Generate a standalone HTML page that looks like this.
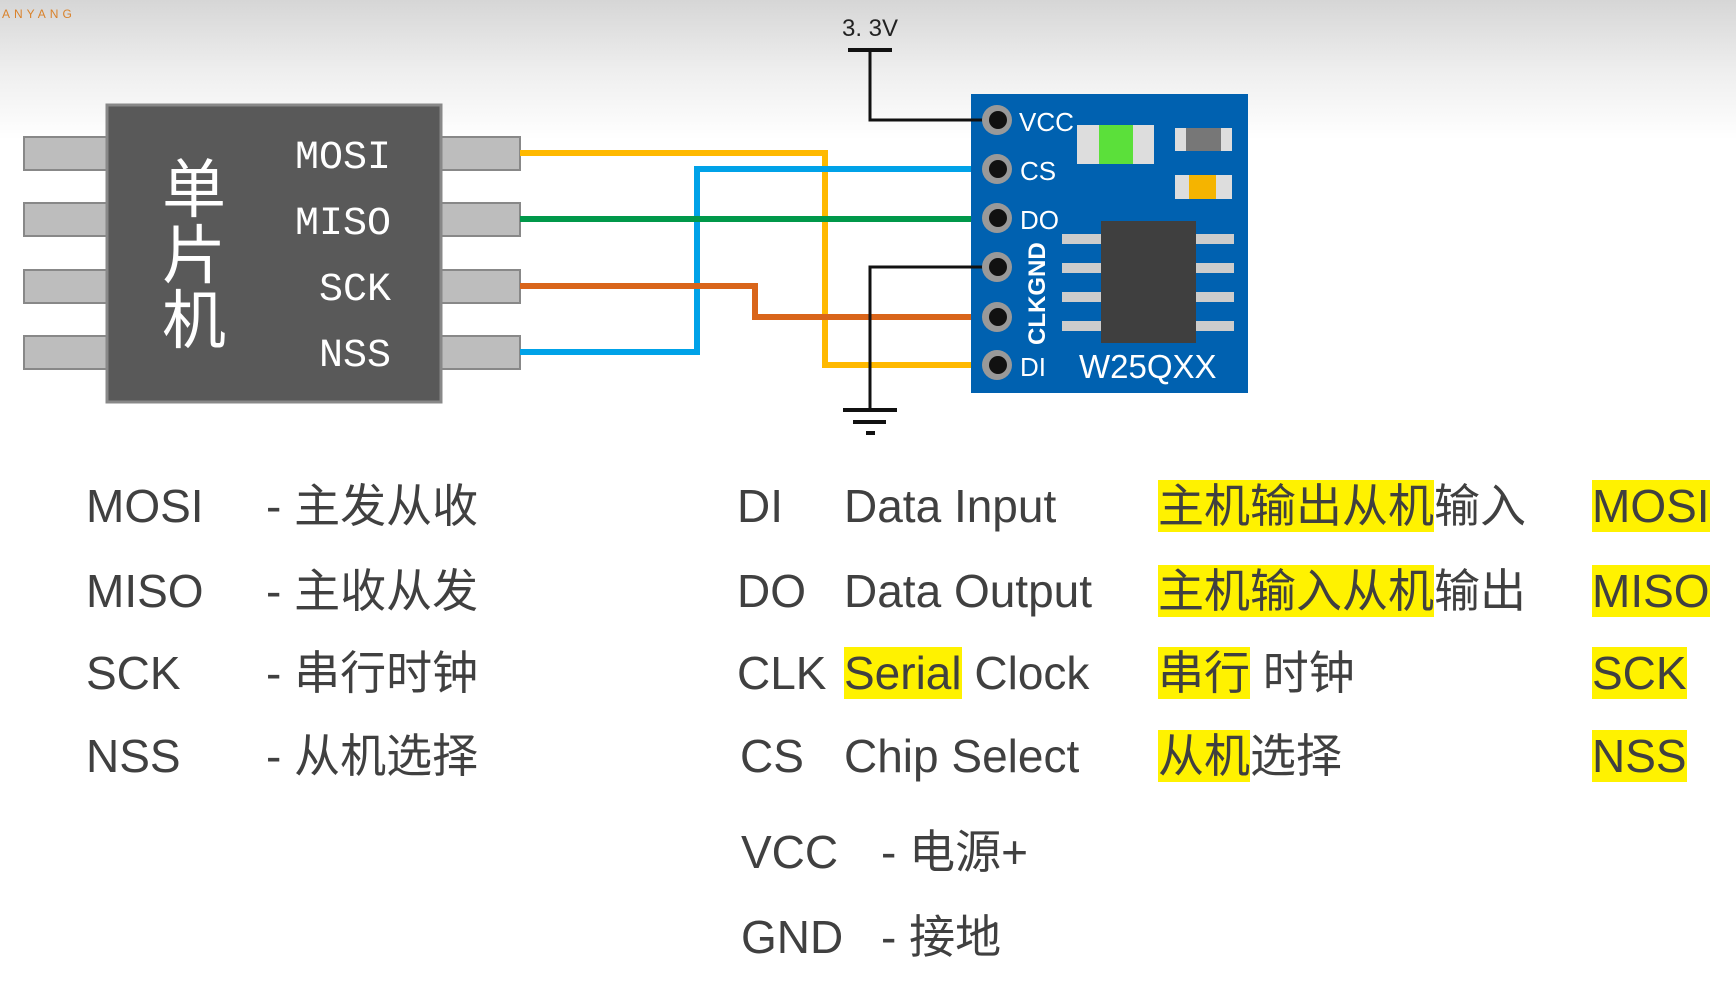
<!DOCTYPE html>
<html><head><meta charset="utf-8"><style>
html,body{margin:0;padding:0}
body{width:1736px;height:986px;position:relative;overflow:hidden;background:linear-gradient(#d6d6d6 0px,#eeeeee 70px,#ffffff 140px,#ffffff 986px);font-family:"Liberation Sans","Noto Sans CJK SC",sans-serif;color:#404040}
.t{position:absolute;font-size:46px;line-height:60px;white-space:nowrap}
.h{background:#fff200}
</style></head><body>
<svg width="1736" height="986" style="position:absolute;left:0;top:0">
<!-- logo hint -->
<text x="2" y="18" font-family="Liberation Sans" font-size="12" fill="#d9822b" letter-spacing="4">ANYANG</text>
<!-- MCU pins -->
<g fill="#bdbdbd" stroke="#888" stroke-width="2">
<rect x="24" y="137" width="84" height="33"/><rect x="24" y="203" width="84" height="33"/>
<rect x="24" y="270" width="84" height="33"/><rect x="24" y="336" width="84" height="33"/>
<rect x="440" y="137" width="80" height="33"/><rect x="440" y="203" width="80" height="33"/>
<rect x="440" y="270" width="80" height="33"/><rect x="440" y="336" width="80" height="33"/>
</g>
<rect x="107" y="105" width="334" height="297" fill="#595959" stroke="#888" stroke-width="3"/>
<g font-family="Liberation Mono,monospace" font-size="40" fill="#fff" text-anchor="end">
<text x="391" y="168">MOSI</text><text x="391" y="234">MISO</text><text x="391" y="300">SCK</text><text x="391" y="366">NSS</text>
</g>
<g font-family="Noto Sans CJK SC,sans-serif" font-size="64" fill="#fff" text-anchor="middle">
<text x="194" y="212">单</text><text x="194" y="278">片</text><text x="194" y="343">机</text>
</g>
<!-- wires -->
<g fill="none" stroke-width="6">
<polyline points="520,153 825,153 825,365 997,365" stroke="#ffb900"/>
<polyline points="520,352 697,352 697,169 997,169" stroke="#00a2e8"/>
<polyline points="520,219 997,219" stroke="#00984a"/>
<polyline points="520,286 755,286 755,317 997,317" stroke="#d9651a"/>
</g>
<!-- module -->
<rect x="971" y="94" width="277" height="299" fill="#0061b0"/>
<g fill="none" stroke="#111" stroke-width="3">
<polyline points="870,50 870,120 997,120"/>
<polyline points="997,267 870,267 870,410"/>
</g>
<g stroke="#111">
<line x1="848" y1="50" x2="892" y2="50" stroke-width="4"/>
<line x1="843" y1="410" x2="897" y2="410" stroke-width="4"/>
<line x1="853" y1="422" x2="886" y2="422" stroke-width="4"/>
<line x1="866" y1="433" x2="875" y2="433" stroke-width="4"/>
</g>
<text x="870" y="36" font-family="Liberation Sans Narrow,Liberation Sans" font-size="24" fill="#222" text-anchor="middle">3. 3V</text>
<g>
<g fill="#999"><circle cx="997" cy="120" r="15"/><circle cx="997" cy="169" r="15"/><circle cx="997" cy="218" r="15"/><circle cx="997" cy="267" r="15"/><circle cx="997" cy="317" r="15"/><circle cx="997" cy="365" r="15"/></g>
<g fill="#111"><circle cx="998" cy="120" r="9"/><circle cx="998" cy="169" r="9"/><circle cx="998" cy="218" r="9"/><circle cx="998" cy="267" r="9"/><circle cx="998" cy="317" r="9"/><circle cx="998" cy="365" r="9"/></g>
</g>
<g font-family="Liberation Sans Narrow,Liberation Sans" font-size="26" fill="#fff">
<text x="1019" y="131">VCC</text><text x="1020" y="180">CS</text><text x="1020" y="229">DO</text><text x="1020" y="376">DI</text>
<text transform="translate(1045,345) rotate(-90)" font-family="Liberation Sans" font-weight="bold" font-size="24">CLKGND</text>
</g>
<rect x="1077" y="125" width="77" height="39" fill="#ddd"/><rect x="1099" y="125" width="34" height="39" fill="#5be03a"/>
<rect x="1175" y="128" width="57" height="23" fill="#ddd"/><rect x="1186" y="128" width="35" height="23" fill="#777"/>
<rect x="1175" y="175" width="57" height="24" fill="#ddd"/><rect x="1189" y="175" width="27" height="24" fill="#f5b400"/>
<g fill="#ccc">
<rect x="1062" y="234" width="40" height="10"/><rect x="1062" y="263" width="40" height="10"/><rect x="1062" y="292" width="40" height="10"/><rect x="1062" y="321" width="40" height="10"/>
<rect x="1196" y="234" width="38" height="10"/><rect x="1196" y="263" width="38" height="10"/><rect x="1196" y="292" width="38" height="10"/><rect x="1196" y="321" width="38" height="10"/>
</g>
<rect x="1101" y="221" width="95" height="122" fill="#3f3f3f"/>
<text x="1079" y="378" font-family="Liberation Sans" font-size="33" fill="#fff">W25QXX</text>
</svg>

<div class="t" style="left:86px;top:476px">MOSI</div><div class="t" style="left:266px;top:476px">- 主发从收</div>
<div class="t" style="left:86px;top:561px">MISO</div><div class="t" style="left:266px;top:561px">- 主收从发</div>
<div class="t" style="left:86px;top:643px">SCK</div><div class="t" style="left:266px;top:643px">- 串行时钟</div>
<div class="t" style="left:86px;top:726px">NSS</div><div class="t" style="left:266px;top:726px">- 从机选择</div>

<div class="t" style="left:737px;top:476px">DI</div><div class="t" style="left:844px;top:476px">Data Input</div>
<div class="t" style="left:737px;top:561px">DO</div><div class="t" style="left:844px;top:561px">Data Output</div>
<div class="t" style="left:737px;top:643px">CLK</div><div class="t" style="left:844px;top:643px"><span class="h">Serial</span> Clock</div>
<div class="t" style="left:740px;top:726px">CS</div><div class="t" style="left:844px;top:726px">Chip Select</div>

<div class="t" style="left:1158px;top:476px"><span class="h">主机输出从机</span>输入</div>
<div class="t" style="left:1158px;top:561px"><span class="h">主机输入从机</span>输出</div>
<div class="t" style="left:1158px;top:643px"><span class="h">串行</span> 时钟</div>
<div class="t" style="left:1158px;top:726px"><span class="h">从机</span>选择</div>

<div class="t" style="left:1592px;top:476px"><span class="h">MOSI</span></div>
<div class="t" style="left:1592px;top:561px"><span class="h">MISO</span></div>
<div class="t" style="left:1592px;top:643px"><span class="h">SCK</span></div>
<div class="t" style="left:1592px;top:726px"><span class="h">NSS</span></div>

<div class="t" style="left:741px;top:822px">VCC</div><div class="t" style="left:881px;top:822px">- 电源+</div>
<div class="t" style="left:741px;top:907px">GND</div><div class="t" style="left:881px;top:907px">- 接地</div>
</body></html>
